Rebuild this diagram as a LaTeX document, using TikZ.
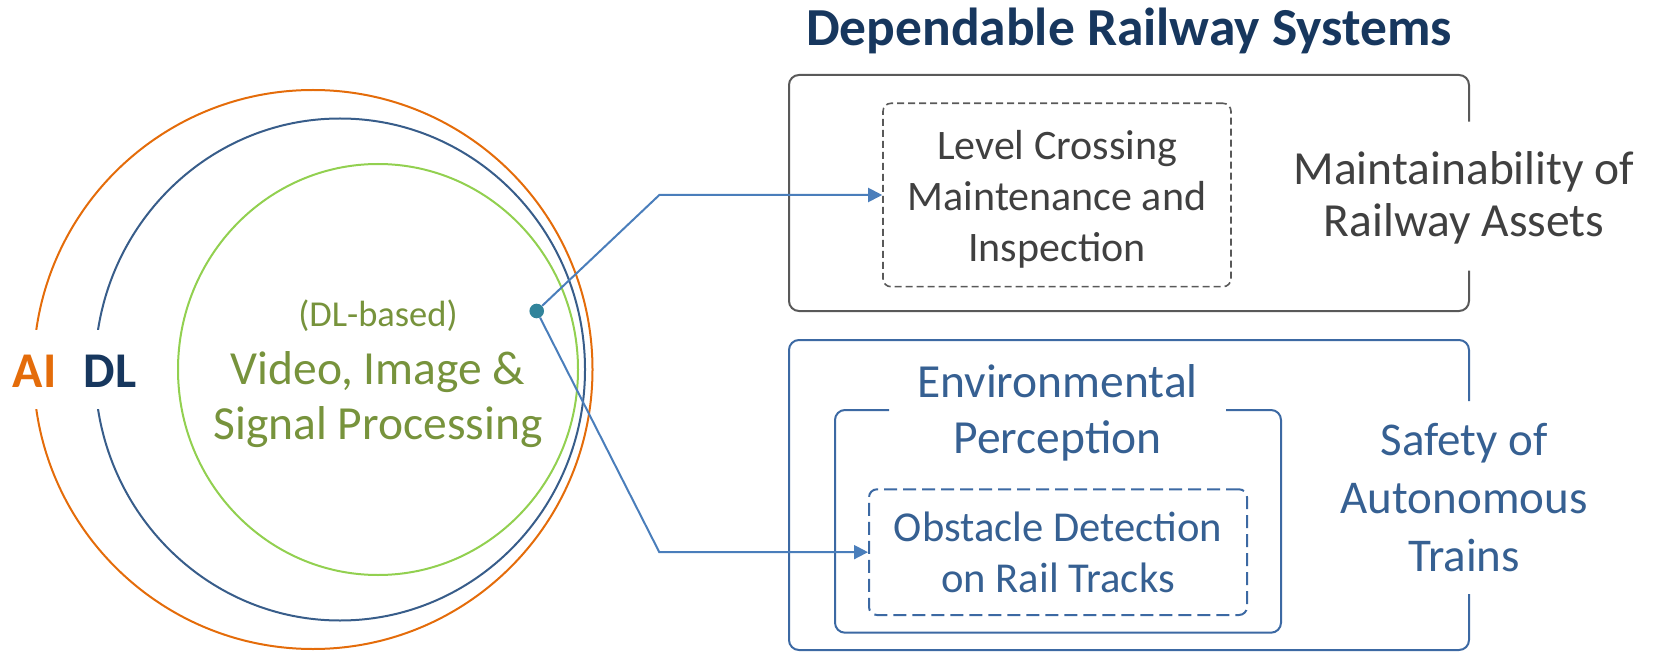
\documentclass[tikz,border=0pt]{standalone}
\usepackage{fontspec}
\setmainfont{Carlito}
\usetikzlibrary{arrows.meta}

\definecolor{aiorange}{HTML}{E46C0A}
\definecolor{dlnavy}{HTML}{17375E}
\definecolor{dlblue}{HTML}{385D8A}
\definecolor{vipgreen}{HTML}{92D050}
\definecolor{viptext}{HTML}{77933C}
\definecolor{boxgray}{HTML}{595959}
\definecolor{txtgray}{HTML}{404040}
\definecolor{boxblue}{HTML}{3C69A3}
\definecolor{txtblue}{HTML}{366092}
\definecolor{linkblue}{HTML}{4A7EBB}
\definecolor{dotteal}{HTML}{31849B}

\tikzset{
  ring/.style={line width=2pt},
  setlabel/.style={anchor=base, fill=white, font=\bfseries\fontsize{50}{60}\selectfont,
    text height=57.5pt, text depth=21.5pt, inner ysep=0pt, inner xsep=3pt},
  framegray/.style={draw=boxgray, line width=2pt, rounded corners=10pt},
  frameblue/.style={draw=boxblue, line width=2pt, rounded corners=10pt},
  dashgray/.style={draw=boxgray, line width=1.6pt, dash pattern=on 7pt off 4pt,
    rounded corners=8pt, inner sep=0pt},
  dashblue/.style={draw=boxblue, line width=2pt, dash pattern=on 13pt off 6pt,
    rounded corners=8pt, inner sep=0pt},
  link/.style={draw=linkblue, line width=2pt, -{Triangle[length=14pt,width=14pt]}},
  blocktext/.style={align=center, inner sep=0pt}
}

\begin{document}
\begin{tikzpicture}[x=1pt, y=-1pt]
\useasboundingbox (0,0) rectangle (1654,652);

% nested sets: AI, DL and DL-based processing
\draw[ring, aiorange] (313,369.5) circle[radius=279.5];
\draw[ring, dlblue] (340,369.5) ellipse[x radius=245, y radius=251];
\draw[ring, vipgreen] (378,369.5) ellipse[x radius=200, y radius=205.5];

\node[setlabel, text=aiorange] (ai) at (34.6,387.5) {AI};
\node[setlabel, text=dlnavy] (dl) at (110,387.5) {DL};

\node[anchor=base, text=viptext, font=\fontsize{36.5}{42}\selectfont] (dlb) at (378,326) {(DL-based)};
\node[blocktext, text=viptext, font=\fontsize{47.5}{54.8}\selectfont] (vip) at (378,401)
  {\strut Video, Image \&\\Signal Processing\strut};

% title
\node[anchor=base, text=dlnavy, font=\bfseries\fontsize{53.5}{62}\selectfont] (title) at (1129,46)
  {Dependable Railway Systems};

% maintainability frame (open on the right for its label)
\draw[framegray] (1469,121.7) -- (1469,75) -- (789,75) -- (789,311) -- (1469,311) -- (1469,270.7);
\node[blocktext, text=txtgray, font=\fontsize{47.5}{52}\selectfont] (mra) at (1464,200.5)
  {\strut Maintainability of\\Railway Assets\strut};

\node[dashgray, minimum width=348pt, minimum height=183.4pt] (lcm) at (1057,195) {};
\node[blocktext, text=txtgray, font=\fontsize{42}{51}\selectfont] (lcmtxt) at (1057,200)
  {\strut Level Crossing\\Maintenance and\\Inspection\strut};

% safety frame
\draw[frameblue] (1469,401) -- (1469,340) -- (789,340) -- (789,650) -- (1469,650) -- (1469,594);
\node[blocktext, text=txtblue, font=\fontsize{47}{57.8}\selectfont] (saf) at (1464,502)
  {\strut Safety of\\Autonomous\\Trains\strut};

\draw[frameblue] (889,410) -- (835,410) -- (835,632.7) -- (1281,632.7) -- (1281,410) -- (1226,410);
\node[blocktext, text=txtblue, font=\fontsize{47.5}{55.6}\selectfont] (env) at (1057.5,414.4)
  {\strut Environmental\\Perception\strut};

\node[dashblue, minimum width=378pt, minimum height=125.7pt] (obs) at (1058,552.15) {};
\node[blocktext, text=txtblue, font=\fontsize{42.6}{51}\selectfont] (obstxt) at (1058,557)
  {\strut Obstacle Detection\\on Rail Tracks\strut};

% connectors from the processing set to the two applications
\node[circle, fill=dotteal, inner sep=0pt, minimum size=14.6pt] (src) at (536.7,311) {};
\coordinate (bu) at (659.3,195);
\coordinate (bl) at (659.3,552.15);
\draw[link] (src) -- (bu) -- (lcm.west);
\draw[link] (src) -- (bl) -- (obs.west);
\end{tikzpicture}
\end{document}
